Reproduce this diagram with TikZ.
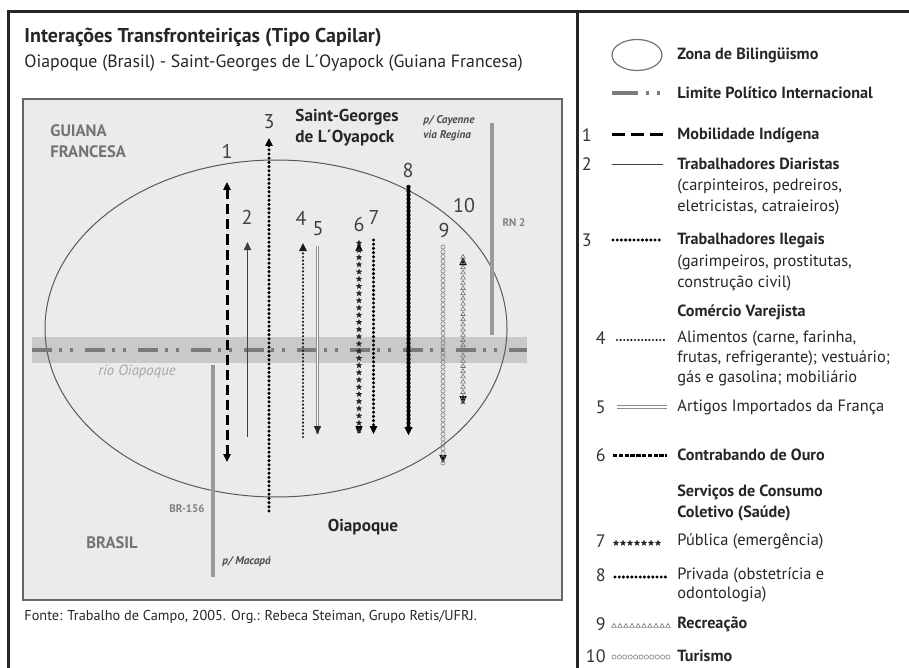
\documentclass[tikz,border=0pt]{standalone}
\usepackage{fontspec}
\setmainfont{PT Sans}
\usetikzlibrary{arrows.meta, decorations.markings, shapes.geometric, positioning}
\definecolor{mapfill}{HTML}{EBEBEB}
\definecolor{bandgray}{HTML}{C9C9C9}
\definecolor{limgray}{HTML}{7A7A7A}

\begin{document}
\begin{tikzpicture}[x=0.5pt, y=-0.5pt,
  >={Triangle[length=4pt, width=3.6pt]},
  frameline/.style={draw=black!85, line width=1.5pt},
  mapnum/.style={font=\fontsize{10}{10}\selectfont, text=black!75, inner sep=0pt},
  region/.style={font=\bfseries\fontsize{8.3}{10.5}\selectfont, text=black!55, align=left, inner sep=0pt},
  city/.style={font=\bfseries\fontsize{8.6}{10.5}\selectfont, text=black!85, align=left, inner sep=0pt},
  roadlbl/.style={font=\bfseries\fontsize{5.5}{6}\selectfont, text=black!50, inner sep=0pt},
  roadnote/.style={font=\bfseries\itshape\fontsize{5.6}{7.5}\selectfont, text=black!70, align=left, inner sep=0pt},
  road/.style={draw=black!40, line width=1.6pt},
  limite/.style={draw=limgray, line width=2pt,
                 dash pattern=on 10pt off 3.5pt on 1.5pt off 4pt on 1.5pt off 6pt},
  legtxt/.style={font=\fontsize{8.2}{10}\selectfont, text=black!85, anchor=west, inner sep=0pt},
  leghead/.style={legtxt, font=\bfseries\fontsize{8.1}{10}\selectfont},
  legnum/.style={font=\fontsize{9}{9}\selectfont, text=black!80, anchor=east, inner sep=0pt},
  onlytip/.style={dash pattern=on 0pt off 1000pt},
  % tipos de linha
  dashline/.style={line width=1.5pt, dash pattern=on 5pt off 2.5pt},
  thinline/.style={line width=0.45pt, draw=black!75},
  dotline/.style={line width=1.7pt, line cap=round, dash pattern=on 0pt off 2.1pt},
  finedots/.style={line width=1.2pt, line cap=round, dash pattern=on 0pt off 1.8pt, draw=black!90},
  ladder/.style={draw=black!45, line width=0.35pt, double=white, double distance=0.9pt},
  densedots/.style={line width=1.7pt, line cap=round, dash pattern=on 0pt off 2.1pt},
  heavydots/.style={line width=2.2pt, line cap=round, dash pattern=on 0pt off 2pt,
                    preaction={draw, line width=1.1pt, solid, line cap=butt}},
  densedash/.style={line width=1.5pt, dash pattern=on 2.2pt off 0.7pt},
  starmark/.style={star, star points=5, star point ratio=2.3, fill=black!85, inner sep=0pt, minimum size=3.4pt},
  trimark/.style={solid, regular polygon, regular polygon sides=3, draw=black!55, line width=0.3pt, inner sep=0pt, minimum size=2.6pt},
  starline/.style={onlytip, postaction={decorate, decoration={markings,
      mark=between positions 0 and 1 step #1 with {\node[starmark] {};}}}},
  triline/.style={onlytip, postaction={decorate, decoration={markings,
      mark=between positions 0 and 1 step #1 with {\node[trimark] {};}}}},
  circline/.style={onlytip, postaction={decorate, decoration={markings,
      mark=between positions 0 and 1 step #1 with {\draw[solid, black!50, line width=0.3pt] (0,0) circle[radius=1.05pt];}}}}
]
\useasboundingbox (0,0) rectangle (909,668);

%% moldura
\draw[frameline] (8,668) -- (8,12) -- (909,12);
\draw[frameline] (577,12) -- (577,668);

%% titulo
\node[anchor=west, inner sep=0pt, font=\bfseries\fontsize{10}{11}\selectfont, text=black!85] (tit) at (24,37)
  {Interações Transfronteiriças (Tipo Capilar)};
\node[anchor=west, inner sep=0pt, font=\fontsize{8.9}{10}\selectfont, text=black!85] (subtit) at (24,63)
  {Oiapoque (Brasil) - Saint-Georges de L´Oyapock (Guiana Francesa)};

%% mapa (fundo, rio, zona)
\draw[draw=black!60, line width=0.8pt, fill=mapfill] (23,99) rectangle (562,600);
\fill[bandgray] (32,337) rectangle (527,363);
\draw[black!65, line width=0.5pt] (276,328.5) ellipse [x radius=231, y radius=168.5];
\draw[limite] (32,350) -- (527,350);

%% estradas
\coordinate (br1) at (213,365);
\coordinate (br2) at (213,577);
\coordinate (rn1) at (492,123);
\coordinate (rn2) at (492,335);
\draw[road] (br1) -- (br2);
\draw[road] (rn1) -- (rn2);

%% rotulos do mapa
\node[region, anchor=west] (guiana) at (50,141) {GUIANA\\FRANCESA};
\node[region] (brasil) at (112,543) {BRASIL};
\node[city, anchor=west] (stgeo) at (295,128) {Saint-Georges\\de L´Oyapock};
\node[city] (oiap) at (363,527) {Oiapoque};
\node[roadnote, anchor=west] (cayenne) at (423,128) {p/ Cayenne\\via Regina};
\node[roadlbl] (rnlbl) at (514,223) {RN 2};
\node[roadlbl] (brlbl) at (187,509) {BR-156};
\node[font=\itshape\fontsize{7.4}{8}\selectfont, text=black!35, inner sep=0pt] (rio) at (137,372) {rio Oiapoque};
\node[roadnote, anchor=west] (macapa) at (222,562) {p/ Macapá};

%% numeros das interacoes
\node[mapnum] (n1) at (227,151) {1};
\node[mapnum] (n2) at (247,217) {2};
\node[mapnum] (n3) at (269,122) {3};
\node[mapnum] (n4) at (301,218) {4};
\node[mapnum] (n5) at (318,229) {5};
\node[mapnum] (n6) at (359,224) {6};
\node[mapnum] (n7) at (374,218) {7};
\node[mapnum] (n8) at (408,171) {8};
\node[mapnum] (n9) at (444,230) {9};
\node[mapnum] (n10) at (464,206) {10};

%% fluxos
\coordinate (f1t) at (227,182);   \coordinate (f1b) at (227,462);
\coordinate (f2t) at (247.5,242); \coordinate (f2b) at (247.5,437);
\coordinate (f3t) at (269,138);   \coordinate (f3b) at (269,511);
\coordinate (f4t) at (303,243);   \coordinate (f4b) at (303,437);
\coordinate (f5t) at (317.5,246); \coordinate (f5b) at (317.5,434);
\coordinate (f6t) at (359,243);   \coordinate (f6b) at (359,434);
\coordinate (f7t) at (373.5,240); \coordinate (f7b) at (373.5,434);
\coordinate (f8t) at (408.5,187); \coordinate (f8b) at (408.5,435);
\coordinate (f9t) at (443,247);   \coordinate (f9b) at (443,463);
\coordinate (f10t) at (463,257);  \coordinate (f10b) at (463,404);

\draw[dashline, <->] (f1t) -- (f1b);
\draw[thinline, ->] (f2b) -- (f2t);
\draw[dotline, ->] (f3b) -- (f3t);
\draw[finedots, ->] (f4b) -- (f4t);
\draw[ladder] (f5t) -- (f5b);
\draw[onlytip, draw=black!85, ->] (f5t) -- (f5b);
\draw[starline=3.6pt, <->] (f6t) -- (f6b);
\draw[densedots, ->] (f7t) -- (f7b);
\draw[heavydots, ->] (f8t) -- (f8b);
\draw[circline=2.4pt, ->] (f9t) -- (f9b);
\draw[triline=2.6pt, <->] (f10t) -- (f10b);

%% fonte
\node[anchor=west, inner sep=0pt, font=\fontsize{7.15}{9}\selectfont, text=black!85] (fonte) at (24,617)
  {Fonte: Trabalho de Campo, 2005. Org.: Rebeca Steiman, Grupo Retis/UFRJ.};

%% legenda
\draw[black!55, line width=0.6pt] (637,55) ellipse [x radius=25, y radius=15.5];
\node[leghead] (lgz) at (677,55) {Zona de Bilingüismo};
\draw[limite, dash pattern=on 13pt off 4pt on 1.5pt off 4pt on 1.5pt off 10pt] (612,93) -- (662,93);
\node[leghead] (lgl) at (677,93) {Limite Político Internacional};

\node[legnum] (k1) at (592,135) {1};
\draw[dashline, dash pattern=on 6.5pt off 3pt] (612,135) -- (663,135);
\node[leghead] (lg1) at (677,135) {Mobilidade Indígena};

\node[legnum] (k2) at (592,164) {2};
\draw[thinline] (612,164) -- (663,164);
\node[leghead] (lg2) at (677,164) {Trabalhadores Diaristas};
\node[legtxt] (lg2a) at (677,186) {(carpinteiros, pedreiros,};
\node[legtxt] (lg2b) at (677,207) {eletricistas, catraieiros)};

\node[legnum] (k3) at (592,240) {3};
\draw[dotline] (613,240) -- (663,240);
\node[leghead] (lg3) at (677,240) {Trabalhadores Ilegais};
\node[legtxt] (lg3a) at (677,262) {(garimpeiros, prostitutas,};
\node[legtxt] (lg3b) at (677,283) {construção civil)};

\node[leghead] (lgcv) at (677,312) {Comércio Varejista};

\node[legnum] (k4) at (606,338) {4};
\draw[finedots] (617,340) -- (667,340);
\node[legtxt] (lg4) at (677,338) {Alimentos (carne, farinha,};
\node[legtxt] (lg4a) at (677,358) {frutas, refrigerante); vestuário;};
\node[legtxt] (lg4b) at (677,378) {gás e gasolina; mobiliário};

\node[legnum] (k5) at (606,407) {5};
\draw[ladder] (617,407) -- (667,407);
\node[legtxt] (lg5) at (677,407) {Artigos Importados da França};

\node[legnum] (k6) at (606,455) {6};
\draw[densedash] (613,455) -- (667,455);
\node[leghead] (lg6) at (677,455) {Contrabando de Ouro};

\node[leghead] (lgsc) at (677,492) {Serviços de Consumo};
\node[leghead] (lgsc2) at (677,513) {Coletivo (Saúde)};

\node[legnum] (k7) at (606,541) {7};
\draw[starline=3.5pt] (616,543) -- (663,543);
\node[legtxt] (lg7) at (677,541) {Pública (emergência)};

\node[legnum] (k8) at (606,575) {8};
\draw[densedots] (615,577) -- (668,577);
\node[legtxt] (lg8) at (677,575) {Privada (obstetrícia e};
\node[legtxt] (lg8a) at (677,594) {odontologia)};

\node[legnum] (k9) at (606,624) {9};
\draw[triline=3pt] (614,626) -- (668,626);
\node[leghead] (lg9) at (677,624) {Recreação};

\node[legnum] (k10) at (606,656) {10};
\draw[circline=2.7pt] (614,657) -- (668,657);
\node[leghead] (lg10) at (677,656) {Turismo};

\end{tikzpicture}
\end{document}
